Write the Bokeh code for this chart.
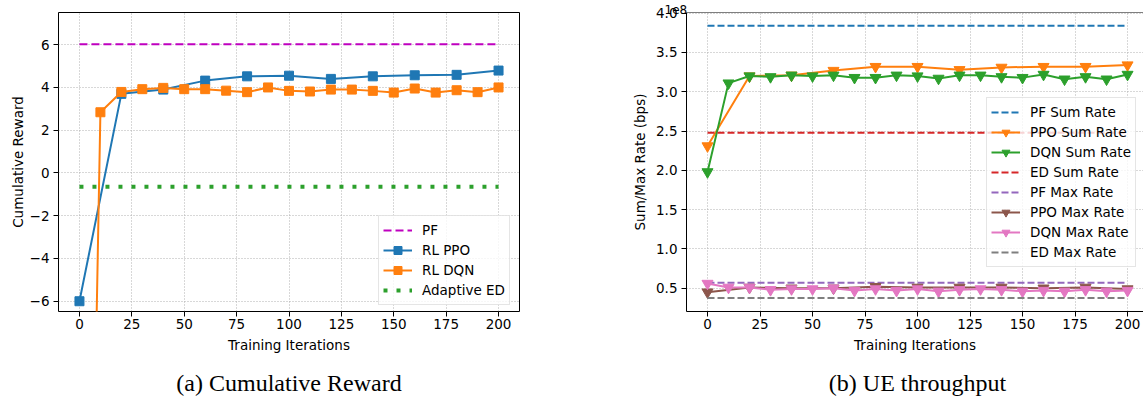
from bokeh.plotting import figure
from bokeh.models import (Range1d, Legend, LegendItem, CustomJSTickFormatter,
                          FixedTicker, Span, Title)
from bokeh.core.properties import value
from bokeh.layouts import row, column
from bokeh.embed import file_html
from bokeh.resources import INLINE

# ---------------- data: (a) Cumulative Reward ----------------
iters_ppo = [0, 20, 40, 60, 80, 100, 120, 140, 160, 180, 200]
iters_dqn = [0, 10, 20, 30, 40, 50, 60, 70, 80, 90, 100,
             110, 120, 130, 140, 150, 160, 170, 180, 190, 200]
reward_ppo = [-6.0, 3.70, 3.90, 4.32, 4.52, 4.55, 4.40, 4.52, 4.57, 4.59, 4.79]
reward_dqn = [-50.0, 2.84, 3.79, 3.92, 3.98, 3.92, 3.92, 3.85, 3.78, 4.00, 3.84,
              3.81, 3.90, 3.90, 3.84, 3.76, 3.95, 3.76, 3.87, 3.78, 4.00]
reward_pf = 6.02
reward_adaptive_ed = -0.64

# ---------------- data: (b) UE throughput (bps) ----------------
sum_ppo = [2.31e8, 3.20e8, 3.21e8, 3.27e8, 3.32e8, 3.32e8, 3.28e8, 3.31e8, 3.32e8, 3.32e8, 3.34e8]
sum_dqn = [1.98e8, 3.11e8, 3.20e8, 3.19e8, 3.21e8, 3.20e8, 3.21e8, 3.18e8, 3.18e8, 3.21e8, 3.20e8,
           3.17e8, 3.21e8, 3.21e8, 3.19e8, 3.18e8, 3.22e8, 3.16e8, 3.19e8, 3.16e8, 3.22e8]
max_ppo = [0.45e8, 0.51e8, 0.50e8, 0.50e8, 0.52e8, 0.51e8, 0.51e8, 0.51e8, 0.50e8, 0.51e8, 0.49e8]
max_dqn = [0.56e8, 0.51e8, 0.51e8, 0.48e8, 0.49e8, 0.49e8, 0.50e8, 0.47e8, 0.49e8, 0.47e8, 0.49e8,
           0.46e8, 0.48e8, 0.49e8, 0.48e8, 0.46e8, 0.47e8, 0.46e8, 0.48e8, 0.46e8, 0.47e8]
sum_pf = 3.84e8
sum_ed = 2.48e8
max_pf = 0.57e8
max_ed = 0.375e8

x_ticks = [0, 25, 50, 75, 100, 125, 150, 175, 200]
reward_ticks = [-6, -4, -2, 0, 2, 4, 6]
rate_ticks = [0.5e8, 1.0e8, 1.5e8, 2.0e8, 2.5e8, 3.0e8, 3.5e8, 4.0e8]
captions = ["(a) Cumulative Reward", "(b) UE throughput"]
rate_offset_text = "1e8"

FONT = "DejaVu Sans"
FS = "13.5px"
BLUE, ORANGE, GREEN, RED = "#1f77b4", "#ff7f0e", "#2ca02c", "#d62728"
PURPLE, BROWN, PINK, GRAY = "#9467bd", "#8c564b", "#e377c2", "#7f7f7f"
MAGENTA = "#bf00bf"
X_MID = 100          # centre of the -10..210 x range
MAIN_H, CAP_H = 370, 26
CAP_BOTTOM = 1       # caption text-box bottom, px above the page bottom


def style(p, xlabel, ylabel, ylabel_standoff):
    p.background_fill_color = "white"
    p.border_fill_color = "white"
    for ax in (p.xaxis, p.yaxis):
        ax.axis_label_text_font = FONT
        ax.axis_label_text_font_size = FS
        ax.axis_label_text_font_style = "normal"
        ax.axis_label_text_color = "black"
        ax.major_label_text_font = FONT
        ax.major_label_text_font_size = FS
        ax.major_label_text_color = "black"
        ax.major_tick_in = 0
        ax.major_tick_out = 5
        ax.major_tick_line_color = "black"
        ax.minor_tick_line_color = None
    p.xaxis.axis_label = xlabel
    p.yaxis.axis_label = ylabel
    p.xaxis.major_label_standoff = 2
    p.xaxis.axis_label_standoff = 5
    p.yaxis.major_label_standoff = 4
    p.yaxis.axis_label_standoff = ylabel_standoff
    p.xaxis.ticker = FixedTicker(ticks=x_ticks)
    for g in (p.xgrid, p.ygrid):
        g.grid_line_color = "#b0b0b0"
        g.grid_line_dash = "1 2"
        g.grid_line_width = 1


def make_legend(items, loc):
    lg = Legend(items=items, location=loc)
    lg.label_text_font = FONT
    lg.label_text_font_size = FS
    lg.label_text_color = "black"
    lg.glyph_width = 29
    lg.glyph_height = 20
    lg.label_height = 20
    lg.label_standoff = 10
    lg.spacing = 0
    lg.padding = 4
    lg.margin = 0
    lg.border_line_color = "#cccccc"
    lg.border_line_width = 1
    lg.background_fill_color = "white"
    lg.background_fill_alpha = 0.8
    return lg


def caption_fig(width, bl, br, x_end, text):
    c = figure(width=width, height=CAP_H, output_backend="svg",
               toolbar_location=None, x_range=Range1d(-10, x_end),
               y_range=Range1d(0, CAP_H), x_axis_location=None,
               y_axis_location=None, min_border_left=bl, min_border_right=br,
               min_border_top=0, min_border_bottom=0)
    c.outline_line_color = None
    c.grid.visible = False
    c.background_fill_color = "white"
    c.border_fill_color = "white"
    c.text(x=[X_MID], y=[CAP_BOTTOM], text=[text],
           text_font=value("Liberation Serif"), text_font_size=value("24px"),
           text_align="center", text_baseline="bottom", text_color="black")
    return c


# ---------------- figure (a) ----------------
Y1 = (-6.48, 7.506)
p1 = figure(width=626, height=MAIN_H, output_backend="svg", toolbar_location=None,
            x_range=Range1d(-10, 210), y_range=Range1d(*Y1),
            min_border_left=58, min_border_right=107, min_border_top=11,
            min_border_bottom=59)
style(p1, "Training Iterations", "Cumulative Reward", 1)
p1.outline_line_color = "black"
p1.outline_line_width = 1
p1.xaxis.axis_line_color = None
p1.yaxis.axis_line_color = None
p1.yaxis.ticker = FixedTicker(ticks=reward_ticks)
p1.yaxis.formatter = CustomJSTickFormatter(
    code='return tick < 0 ? "\\u2212" + (-tick) : "" + tick;')

ends = [iters_dqn[0], iters_dqn[-1]]
r_pf = p1.line(ends, [reward_pf] * 2, line_color=MAGENTA, line_width=2,
               line_dash="8 4")
r_ppo_l = p1.line(iters_ppo, reward_ppo, line_color=BLUE, line_width=2)
r_ppo_m = p1.scatter(iters_ppo, reward_ppo, marker="square", size=9,
                     fill_color=BLUE, line_color=BLUE)
r_dqn_l = p1.line(iters_dqn, reward_dqn, line_color=ORANGE, line_width=2)
r_dqn_m = p1.scatter(iters_dqn, reward_dqn, marker="square", size=9,
                     fill_color=ORANGE, line_color=ORANGE)
r_ed = p1.line(ends, [reward_adaptive_ed] * 2, line_color=GREEN, line_width=4,
               line_dash="4 9", line_cap="butt")

p1.add_layout(make_legend([
    LegendItem(label="PF", renderers=[r_pf]),
    LegendItem(label="RL PPO", renderers=[r_ppo_l, r_ppo_m]),
    LegendItem(label="RL DQN", renderers=[r_dqn_l, r_dqn_m]),
    LegendItem(label="Adaptive ED", renderers=[r_ed]),
], (320, 6)))

# ---------------- figure (b) ----------------
Y2 = (0.2035e8, 4.009e8)
X2_END = 207.6
p2 = figure(width=517, height=MAIN_H, output_backend="svg", toolbar_location=None,
            x_range=Range1d(-10, X2_END), y_range=Range1d(*Y2),
            min_border_left=60, min_border_right=0, min_border_top=12,
            min_border_bottom=59)
style(p2, "Training Iterations", "Sum/Max Rate (bps)", 5)
p2.outline_line_color = None
p2.xaxis.axis_line_color = "black"
p2.yaxis.axis_line_color = "black"
p2.add_layout(Span(location=Y2[1], dimension="width", line_color="black",
                   line_width=1))
p2.yaxis.ticker = FixedTicker(ticks=rate_ticks)
p2.yaxis.formatter = CustomJSTickFormatter(code="return (tick/1e8).toFixed(1);")
p2.add_layout(Title(text=rate_offset_text, align="left", text_font=FONT,
                    text_font_size="12px", text_font_style="normal",
                    text_color="black", standoff=-2, offset=-22), "above")

r_pfs = p2.line(ends, [sum_pf] * 2, line_color=BLUE, line_width=2, line_dash="7 3")
r_pps_l = p2.line(iters_ppo, sum_ppo, line_color=ORANGE, line_width=2)
r_pps_m = p2.scatter(iters_ppo, sum_ppo, marker="inverted_triangle", size=11,
                     fill_color=ORANGE, line_color=ORANGE)
r_dqs_l = p2.line(iters_dqn, sum_dqn, line_color=GREEN, line_width=2)
r_dqs_m = p2.scatter(iters_dqn, sum_dqn, marker="inverted_triangle", size=11,
                     fill_color=GREEN, line_color=GREEN)
r_eds = p2.line(ends, [sum_ed] * 2, line_color=RED, line_width=2, line_dash="7 3")
r_pfm = p2.line(ends, [max_pf] * 2, line_color=PURPLE, line_width=2, line_dash="7 3")
r_ppm_l = p2.line(iters_ppo, max_ppo, line_color=BROWN, line_width=2)
r_ppm_m = p2.scatter(iters_ppo, max_ppo, marker="inverted_triangle", size=11,
                     fill_color=BROWN, line_color=BROWN)
r_dqm_l = p2.line(iters_dqn, max_dqn, line_color=PINK, line_width=2)
r_dqm_m = p2.scatter(iters_dqn, max_dqn, marker="inverted_triangle", size=11,
                     fill_color=PINK, line_color=PINK)
r_edm = p2.line(ends, [max_ed] * 2, line_color=GRAY, line_width=2, line_dash="7 3")

p2.add_layout(make_legend([
    LegendItem(label="PF Sum Rate", renderers=[r_pfs]),
    LegendItem(label="PPO Sum Rate", renderers=[r_pps_l, r_pps_m]),
    LegendItem(label="DQN Sum Rate", renderers=[r_dqs_l, r_dqs_m]),
    LegendItem(label="ED Sum Rate", renderers=[r_eds]),
    LegendItem(label="PF Max Rate", renderers=[r_pfm]),
    LegendItem(label="PPO Max Rate", renderers=[r_ppm_l, r_ppm_m]),
    LegendItem(label="DQN Max Rate", renderers=[r_dqm_l, r_dqm_m]),
    LegendItem(label="ED Max Rate", renderers=[r_edm]),
], (300, 44)))

c1 = caption_fig(626, 58, 107, 210, captions[0])
c2 = caption_fig(517, 60, 0, X2_END, captions[1])

layout = column(row(p1, p2), row(c1, c2))
open("out.html", "w").write(file_html(layout, INLINE))
